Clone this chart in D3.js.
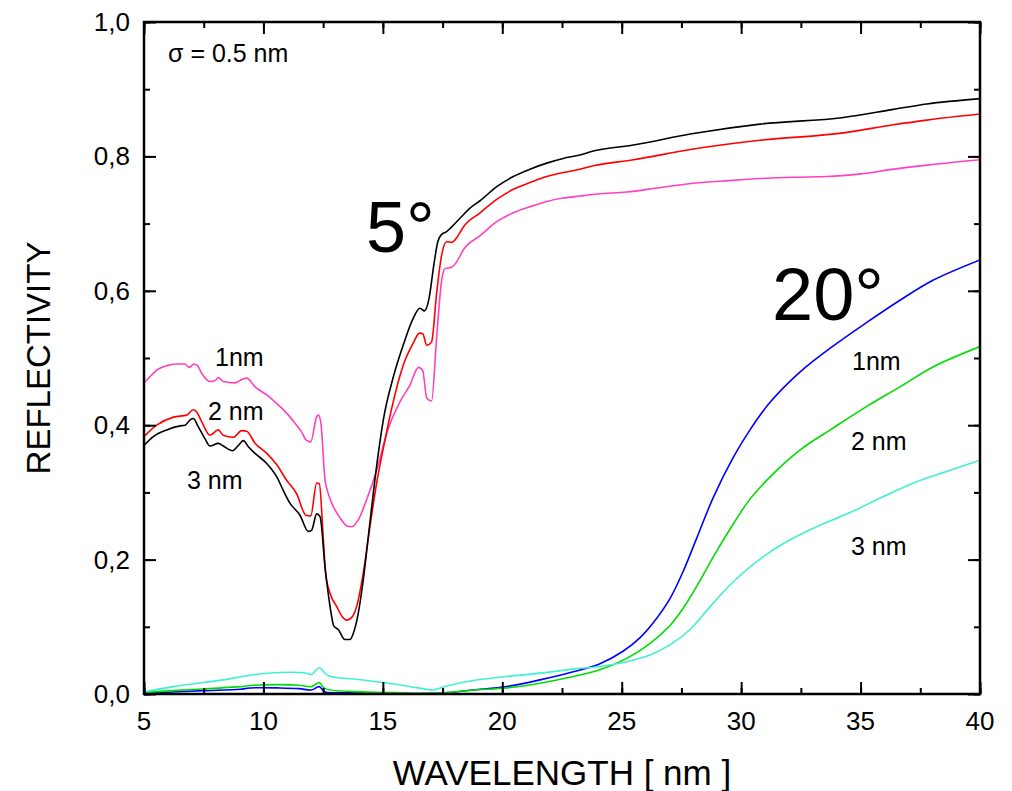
<!DOCTYPE html>
<html>
<head>
<meta charset="utf-8">
<script src="https://cdn.jsdelivr.net/npm/d3@7"></script>
<style>
  html, body { margin: 0; padding: 0; background: #fff; }
  svg { display: block; }
  text { font-family: "Liberation Sans", Arial, Helvetica, sans-serif; fill: #000; }
</style>
</head>
<body>
<svg id="chart" width="1012" height="791"></svg>
<script>
// ---------- DATA ----------
const xTicks = [5, 10, 15, 20, 25, 30, 35, 40];
const yTicks = [0, 0.2, 0.4, 0.6, 0.8, 1.0];

// 5 degrees incidence, roughness 1 nm (pink)
const r5_1nm = [[5.0,0.463],[5.3,0.474],[5.53,0.482],[6.0,0.489],[6.4,0.491],[6.7,0.491],[6.9,0.486],[7.09,0.491],[7.23,0.489],[7.42,0.477],[7.76,0.465],[8.0,0.467],[8.11,0.471],[8.32,0.465],[8.81,0.463],[9.09,0.468],[9.30,0.470],[9.65,0.457],[10.14,0.445],[10.56,0.432],[10.97,0.418],[11.39,0.400],[11.6,0.390],[11.78,0.378],[11.98,0.375],[12.23,0.413],[12.3,0.415],[12.4,0.405],[12.58,0.318],[12.7,0.30],[12.86,0.284],[13.21,0.262],[13.5,0.25],[13.7,0.249],[13.97,0.259],[14.32,0.289],[14.74,0.333],[15.2,0.392],[15.72,0.435],[16.14,0.460],[16.49,0.486],[16.67,0.481],[16.84,0.44],[17.04,0.436],[17.25,0.53],[17.46,0.615],[17.6,0.633],[17.88,0.635],[18.09,0.643],[18.37,0.661],[19.07,0.682],[19.77,0.703],[20.46,0.716],[21.16,0.725],[21.86,0.733],[22.55,0.738],[23.25,0.741],[24.0,0.744],[25.2,0.747],[26.5,0.753],[28.0,0.760],[29.5,0.764],[30.8,0.767],[32.2,0.769],[33.6,0.770],[35.0,0.774],[36.4,0.781],[37.8,0.787],[40.0,0.795]];

// 5 degrees, 2 nm (red)
const r5_2nm = [[5.0,0.383],[5.53,0.400],[6.23,0.412],[6.79,0.415],[7.06,0.423],[7.2,0.420],[7.42,0.405],[7.76,0.385],[8.11,0.393],[8.32,0.385],[8.74,0.382],[9.09,0.392],[9.3,0.391],[9.65,0.373],[10.14,0.358],[10.56,0.341],[10.97,0.318],[11.39,0.298],[11.78,0.266],[11.98,0.265],[12.23,0.314],[12.34,0.313],[12.51,0.229],[12.6,0.18],[12.79,0.15],[13.07,0.130],[13.3,0.115],[13.49,0.110],[13.7,0.114],[13.9,0.130],[14.18,0.180],[14.46,0.249],[14.74,0.314],[15.09,0.378],[15.37,0.425],[15.86,0.49],[16.27,0.522],[16.53,0.537],[16.67,0.536],[16.84,0.519],[17.04,0.524],[17.25,0.596],[17.46,0.653],[17.67,0.673],[17.88,0.672],[18.09,0.679],[18.37,0.695],[19.07,0.716],[19.77,0.736],[20.46,0.751],[21.16,0.761],[21.86,0.770],[22.55,0.776],[23.25,0.781],[23.81,0.786],[25.49,0.795],[28.0,0.811],[30.79,0.824],[34.28,0.835],[36.37,0.847],[37.77,0.854],[40,0.863]];

// 5 degrees, 3 nm (black)
const r5_3nm = [[5.0,0.370],[5.39,0.383],[5.95,0.393],[6.51,0.399],[6.72,0.400],[6.93,0.408],[7.06,0.410],[7.27,0.398],[7.55,0.380],[7.76,0.369],[8.11,0.373],[8.32,0.369],[8.71,0.362],[8.95,0.370],[9.16,0.377],[9.37,0.368],[9.65,0.358],[10.14,0.343],[10.56,0.323],[10.83,0.303],[11.11,0.284],[11.53,0.266],[11.88,0.242],[12.02,0.244],[12.23,0.268],[12.37,0.264],[12.58,0.189],[12.79,0.130],[12.95,0.101],[13.13,0.096],[13.41,0.081],[13.62,0.081],[13.76,0.090],[13.97,0.12],[14.18,0.170],[14.39,0.234],[14.6,0.299],[14.81,0.358],[15.02,0.408],[15.44,0.472],[15.86,0.52],[16.27,0.559],[16.55,0.574],[16.74,0.570],[16.93,0.588],[17.14,0.640],[17.3,0.673],[17.46,0.684],[17.67,0.688],[17.85,0.694],[18.23,0.708],[18.65,0.723],[19.07,0.734],[19.77,0.755],[20.46,0.770],[21.16,0.781],[21.86,0.790],[22.55,0.797],[23.25,0.802],[23.81,0.808],[25.49,0.817],[28.0,0.834],[30.79,0.848],[34.28,0.858],[36.37,0.870],[37.77,0.878],[40,0.886]];

// 20 degrees, 1 nm (blue)
const r20_1nm = [[5.0,0.001],[6.2,0.003],[7.48,0.005],[9.02,0.007],[9.44,0.009],[10.69,0.009],[11.5,0.008],[12.02,0.006],[12.33,0.011],[12.58,0.003],[13.2,0.002],[15.0,0.001],[17.11,0.001],[18.0,0.003],[18.79,0.006],[20.18,0.011],[21.58,0.021],[22.97,0.033],[24.09,0.045],[25.07,0.064],[25.77,0.084],[26.32,0.106],[27.02,0.142],[27.58,0.183],[28.14,0.232],[28.84,0.293],[29.67,0.352],[30.37,0.393],[31.21,0.434],[32.46,0.479],[33.86,0.518],[35.26,0.553],[36.65,0.586],[38.05,0.616],[40.0,0.646]];

// 20 degrees, 2 nm (green)
const r20_2nm = [[5.0,0.002],[6.2,0.005],[7.48,0.0075],[9.02,0.011],[9.58,0.013],[10.69,0.014],[11.5,0.013],[12.02,0.011],[12.33,0.017],[12.58,0.008],[13.9,0.0035],[15.5,0.002],[16.97,0.001],[18.0,0.003],[18.79,0.006],[20.18,0.009],[21.58,0.016],[22.97,0.026],[24.09,0.036],[25.21,0.053],[26.18,0.075],[27.02,0.102],[27.58,0.128],[28.28,0.169],[28.98,0.213],[29.67,0.253],[30.37,0.290],[31.35,0.328],[32.46,0.363],[33.86,0.396],[35.26,0.428],[36.65,0.457],[38.05,0.487],[40.0,0.517]];

// 20 degrees, 3 nm (cyan)
const r20_3nm = [[5.0,0.003],[6.23,0.011],[7.48,0.017],[8.32,0.021],[9.44,0.028],[10.69,0.032],[11.81,0.031],[12.02,0.029],[12.33,0.039],[12.72,0.027],[13.9,0.022],[15.0,0.017],[15.99,0.012],[16.83,0.007],[17.11,0.006],[17.67,0.012],[18.79,0.020],[20.18,0.026],[21.58,0.031],[22.97,0.037],[24.09,0.041],[25.21,0.048],[26.18,0.058],[27.02,0.073],[27.86,0.096],[28.7,0.130],[29.67,0.167],[30.65,0.197],[31.77,0.224],[33.16,0.249],[34.56,0.270],[35.96,0.294],[37.35,0.316],[38.75,0.333],[40.0,0.348]];

const seriesNames = ["5° 1nm", "5° 2 nm", "5° 3 nm", "20° 1nm", "20° 2 nm", "20° 3 nm"];
const seriesData = [r5_1nm, r5_2nm, r5_3nm, r20_1nm, r20_2nm, r20_3nm];
const seriesColors = ["#ff40bf", "#ff0000", "#000000", "#0000ff", "#00dd00", "#40f0d0"];

// ---------- LAYOUT ----------
const svg = d3.select("#chart");
const pLeft = 144, pRight = 980, pTop = 22, pBottom = 694;
const x = d3.scaleLinear().domain([5, 40]).range([pLeft, pRight]);
const y = d3.scaleLinear().domain([0, 1]).range([pBottom, pTop]);

// curves
const line5 = d3.line().x(d => x(d[0])).y(d => y(d[1])).curve(d3.curveMonotoneX);
const line20 = d3.line().x(d => x(d[0])).y(d => y(d[1])).curve(d3.curveCatmullRom.alpha(0.5));
svg.append("clipPath").attr("id", "clip").append("rect")
  .attr("x", pLeft).attr("y", pTop).attr("width", pRight - pLeft).attr("height", pBottom - pTop);
const g = svg.append("g").attr("clip-path", "url(#clip)");
seriesData.forEach((d, i) => {
  g.append("path").datum(d).attr("d", i < 3 ? line5 : line20)
    .attr("fill", "none").attr("stroke", seriesColors[i])
    .attr("stroke-width", 1.6).attr("stroke-linejoin", "round");
});

// axes (ticks inward on all four sides)
const xMinor = d3.range(5, 40.01, 2.5);
const yMinor = d3.range(0, 1.001, 0.1);
const tickStyle = sel => sel.call(s => s.select(".domain").remove())
  .call(s => s.selectAll("line").attr("stroke", "#000").attr("stroke-width", 2))
  .call(s => s.selectAll("text").remove());

svg.append("g").attr("transform", `translate(0,${pBottom})`)
  .call(d3.axisBottom(x).tickValues(xMinor).tickSize(-6)).call(tickStyle);
svg.append("g").attr("transform", `translate(0,${pBottom})`)
  .call(d3.axisBottom(x).tickValues(xTicks).tickSize(-12)).call(tickStyle);
svg.append("g").attr("transform", `translate(0,${pTop})`)
  .call(d3.axisTop(x).tickValues(xMinor).tickSize(-6)).call(tickStyle);
svg.append("g").attr("transform", `translate(0,${pTop})`)
  .call(d3.axisTop(x).tickValues(xTicks).tickSize(-12)).call(tickStyle);
svg.append("g").attr("transform", `translate(${pLeft},0)`)
  .call(d3.axisLeft(y).tickValues(yMinor).tickSize(-6)).call(tickStyle);
svg.append("g").attr("transform", `translate(${pLeft},0)`)
  .call(d3.axisLeft(y).tickValues(yTicks).tickSize(-12)).call(tickStyle);
svg.append("g").attr("transform", `translate(${pRight},0)`)
  .call(d3.axisRight(y).tickValues(yMinor).tickSize(-6)).call(tickStyle);
svg.append("g").attr("transform", `translate(${pRight},0)`)
  .call(d3.axisRight(y).tickValues(yTicks).tickSize(-12)).call(tickStyle);

// frame
svg.append("rect").attr("x", pLeft).attr("y", pTop)
  .attr("width", pRight - pLeft).attr("height", pBottom - pTop)
  .attr("fill", "none").attr("stroke", "#000").attr("stroke-width", 2.5);

// tick labels
svg.append("g").selectAll("text").data(xTicks).join("text")
  .attr("x", d => x(d)).attr("y", pBottom + 36)
  .attr("text-anchor", "middle").attr("font-size", 26)
  .text(d => d3.format("d")(d));
svg.append("g").selectAll("text").data(yTicks).join("text")
  .attr("x", pLeft - 14).attr("y", d => y(d) + 9)
  .attr("text-anchor", "end").attr("font-size", 26)
  .text(d => d3.format(".1f")(d).replace(".", ","));

// axis titles
svg.append("text").attr("x", (pLeft + pRight) / 2).attr("y", 785)
  .attr("text-anchor", "middle").attr("font-size", 35).text("WAVELENGTH [ nm ]");
svg.append("text").attr("transform", `translate(50,${(pTop + pBottom) / 2}) rotate(-90)`)
  .attr("text-anchor", "middle").attr("font-size", 33).text("REFLECTIVITY");

// annotations
svg.append("text").attr("x", 168).attr("y", 62).attr("font-size", 25).text("σ = 0.5 nm");
svg.append("text").attr("x", 366).attr("y", 252).attr("font-size", 72).text("5°");
svg.append("text").attr("x", 772).attr("y", 320).attr("font-size", 74).text("20°");

const labels = [
  ["1nm", 215, 366], ["2 nm", 208, 420], ["3 nm", 187, 489],
  ["1nm", 852, 370], ["2 nm", 851, 450], ["3 nm", 851, 555]
];
svg.append("g").selectAll("text").data(labels).join("text")
  .attr("x", d => d[1]).attr("y", d => d[2]).attr("font-size", 25).text(d => d[0]);
</script>
</body>
</html>
